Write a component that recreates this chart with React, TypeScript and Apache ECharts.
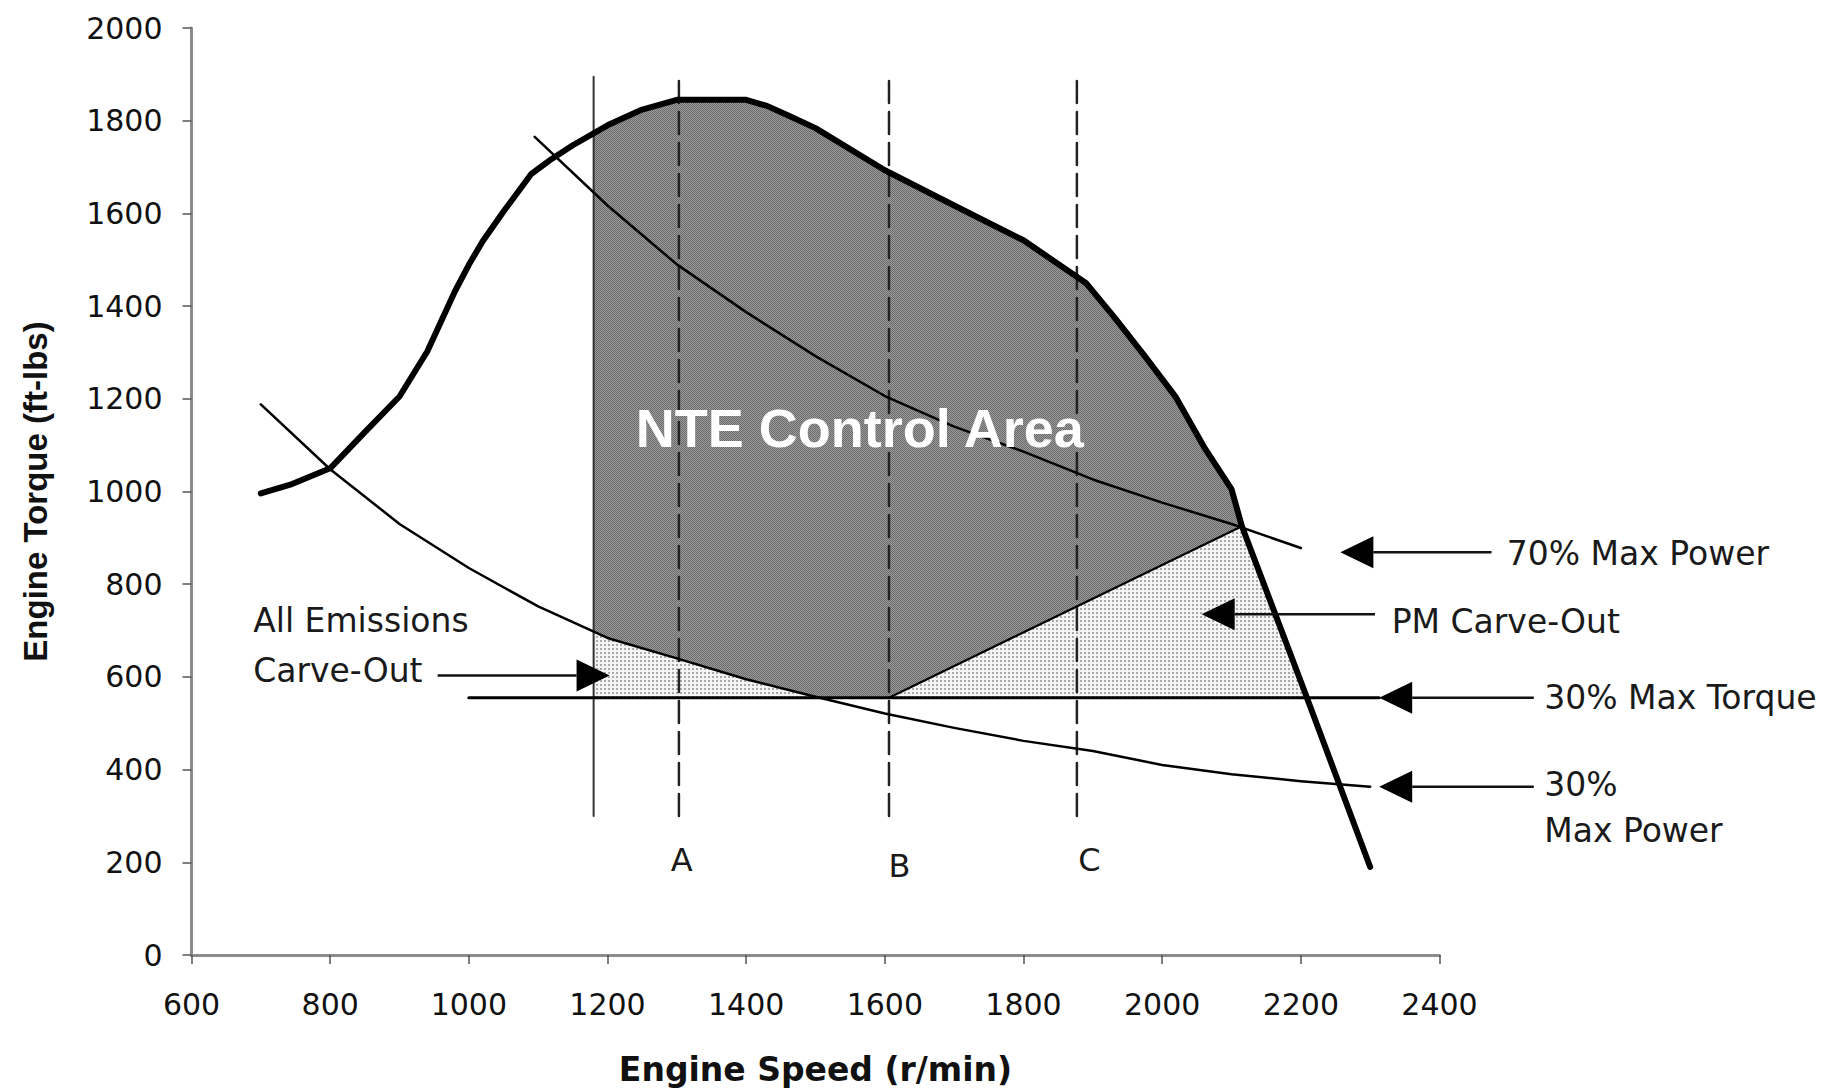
import React, { useEffect, useRef } from "react";
import * as echarts from "echarts";

type Pt = [number, number];

// Engine speed (r/min) vs torque (ft-lbs)
const maxTorqueCurve: Pt[] = [
  [700, 996], [745, 1016], [800, 1050], [850, 1128], [900, 1205], [940, 1302],
  [980, 1432], [1000, 1489], [1020, 1540], [1050, 1604], [1090, 1685], [1120, 1718],
  [1150, 1747], [1200, 1790], [1250, 1824], [1300, 1845], [1400, 1845], [1430, 1832],
  [1460, 1812], [1500, 1784], [1600, 1693], [1700, 1617], [1800, 1542], [1890, 1450],
  [1930, 1378], [1975, 1292], [2020, 1203], [2060, 1097], [2100, 1005], [2115, 925],
  [2200, 590], [2300, 190],
];
const power70Curve: Pt[] = [
  [1095, 1765], [1200, 1617], [1300, 1490], [1400, 1387], [1500, 1292], [1600, 1206],
  [1700, 1140], [1800, 1086], [1900, 1026], [2000, 976], [2100, 930], [2200, 878],
];
const power30Curve: Pt[] = [
  [700, 1188], [800, 1048], [900, 930], [1000, 835], [1100, 752], [1200, 684],
  [1300, 640], [1400, 595], [1500, 557], [1600, 521], [1700, 490], [1800, 462],
  [1900, 440], [2000, 410], [2100, 390], [2200, 375], [2300, 363],
];
const torque30Value = 555;
const torque30Span: Pt = [1000, 2313];

const nteLowSpeed = 1180; // lower speed bound of the NTE zone
const apexSpeed = 2115; // 70% power line meets the torque curve
const modeNames = ["A", "B", "C"];
const modeSpeeds = [1303, 1606, 1877];
const guideSpan: Pt = [300, 1895]; // torque extent of the vertical guides

const xTicks = { min: 600, max: 2400, step: 200 };
const yTicks = { min: 0, max: 2000, step: 200 };

const calloutTexts: string[][] = [
  ["70% Max Power"],
  ["PM Carve-Out"],
  ["30% Max Torque"],
  ["30%", "Max Power"],
  ["All Emissions", "Carve-Out"],
];
// [tail, tip] of each arrow and anchor of each text line, in axis units
const calloutArrows: [Pt, Pt][] = [
  [[2475, 869], [2257, 869]],
  [[2307, 735], [2057, 735]],
  [[2536, 555], [2313, 555]],
  [[2536, 363], [2313, 363]],
  [[955, 603], [1203, 603]],
];
const calloutAnchors: Pt[][] = [
  [[2497, 866]],
  [[2331, 720]],
  [[2551, 555]],
  [[2551, 367], [2551, 268]],
  [[689, 722], [689, 614]],
];
const modeLabelAt: Pt[] = [[1307, 205], [1621, 191], [1895, 205]];
const areaTitle = "NTE Control Area";
const areaTitleAt: Pt = [1564, 1137];

function torqueAt(curve: Pt[], s: number): number {
  for (let i = 0; i < curve.length - 1; i++) {
    const [x0, y0] = curve[i];
    const [x1, y1] = curve[i + 1];
    if (s >= x0 && s <= x1) return y0 + ((s - x0) / (x1 - x0)) * (y1 - y0);
  }
  return s < curve[0][0] ? curve[0][1] : curve[curve.length - 1][1];
}

function speedAtDescending(curve: Pt[], t: number): number {
  for (let i = 0; i < curve.length - 1; i++) {
    const [x0, y0] = curve[i];
    const [x1, y1] = curve[i + 1];
    if (y0 >= t && y1 <= t && y0 !== y1) return x0 + ((y0 - t) / (y0 - y1)) * (x1 - x0);
  }
  return curve[curve.length - 1][0];
}

function section(curve: Pt[], s0: number, s1: number): Pt[] {
  const pts: Pt[] = [[s0, torqueAt(curve, s0)]];
  curve.forEach((p) => {
    if (p[0] > s0 && p[0] < s1) pts.push(p);
  });
  pts.push([s1, torqueAt(curve, s1)]);
  return pts;
}

const power30Cross = speedAtDescending(power30Curve, torque30Value);
const maxTorqueCross = speedAtDescending(maxTorqueCurve, torque30Value);
const apex: Pt = [apexSpeed, torqueAt(maxTorqueCurve, apexSpeed)];
const speedB = modeSpeeds[1];

const nteRegion: Pt[] = [
  ...section(power30Curve, nteLowSpeed, power30Cross),
  [speedB, torque30Value],
  apex,
  ...section(maxTorqueCurve, nteLowSpeed, apexSpeed).reverse(),
];
const allEmissionsRegion: Pt[] = [
  [nteLowSpeed, torque30Value],
  ...section(power30Curve, nteLowSpeed, power30Cross),
];
const pmRegion: Pt[] = [
  [speedB, torque30Value],
  ...section(maxTorqueCurve, apexSpeed, maxTorqueCross),
];

const TEXT_FONT = "DejaVu Sans";
const INK = "#1a1a1a";

// Small repeating stipple tiles for the shaded zones
function stipple(size: number, bg: string, dot: string, cells: Pt[], fallback: string): any {
  try {
    const c = document.createElement("canvas");
    c.width = size;
    c.height = size;
    const ctx = c.getContext("2d");
    if (!ctx) return fallback;
    ctx.fillStyle = bg;
    ctx.fillRect(0, 0, size, size);
    ctx.fillStyle = dot;
    cells.forEach(([x, y]) => ctx.fillRect(x, y, 1, 1));
    return { type: "pattern", image: c.toDataURL(), repeat: "repeat", imageWidth: size, imageHeight: size };
  } catch (e) {
    return fallback;
  }
}

function textEl(text: string, x: number, y: number, size: number, extra: any = {}) {
  const align = extra.align || "left";
  return {
    type: "text",
    x,
    y,
    z2: 20,
    style: {
      text,
      fill: extra.fill || INK,
      fontSize: size,
      fontFamily: extra.fontFamily || TEXT_FONT,
      fontWeight: extra.fontWeight || "normal",
      align,
      textAlign: align,
      verticalAlign: "middle",
      textVerticalAlign: "middle",
    },
  };
}

function regionSeries(pts: Pt[], fill: any, z: number) {
  return {
    type: "custom",
    coordinateSystem: "cartesian2d",
    silent: true,
    z,
    data: [pts[0]],
    renderItem: (_p: any, api: any) => ({
      type: "polygon",
      shape: { points: pts.map((p) => api.coord(p)) },
      style: { fill, stroke: "none" },
    }),
  };
}

function lineSeries(data: Pt[], width: number, extra: any = {}) {
  return {
    type: "line",
    data,
    symbol: "none",
    showSymbol: false,
    silent: true,
    z: extra.z || 5,
    lineStyle: {
      color: extra.color || "#000",
      width,
      type: extra.type || "solid",
      cap: "round",
      join: "round",
    },
  };
}

const plainNumber = (v: number) => String(v);

export default function App() {
  const ref = useRef<HTMLDivElement>(null);

  useEffect(() => {
    if (!ref.current) return;
    const chart = echarts.init(ref.current, undefined, { renderer: "svg" });

    const darkFill = stipple(2, "#9c9c9c", "#6a6a6a", [[0, 0], [1, 1]], "#878787");
    const lightFill = stipple(4, "#f4f4f4", "#a8a8a8", [[0, 0], [1, 0], [0, 1], [1, 1]], "#e1e1e1");

    const guides: any[] = [
      lineSeries([[nteLowSpeed, guideSpan[0]], [nteLowSpeed, guideSpan[1]]], 2, { color: "#333", z: 4 }),
      ...modeSpeeds.map((s) =>
        lineSeries([[s, guideSpan[0]], [s, guideSpan[1]]], 2.5, { color: "#222", type: [22, 9], z: 4 })
      ),
    ];

    const annotations = {
      type: "custom",
      coordinateSystem: "cartesian2d",
      silent: true,
      clip: false,
      z: 10,
      data: [[xTicks.min, yTicks.min]],
      renderItem: (_p: any, api: any) => {
        const children: any[] = [];
        const headLen = 33;
        const headHalf = 16;
        calloutArrows.forEach(([tailV, tipV], i) => {
          const tail = api.coord(tailV);
          const tip = api.coord(tipV);
          const dx = tail[0] - tip[0];
          const dy = tail[1] - tip[1];
          const len = Math.hypot(dx, dy) || 1;
          const ux = dx / len;
          const uy = dy / len;
          const bx = tip[0] + ux * headLen;
          const by = tip[1] + uy * headLen;
          children.push({
            type: "line",
            shape: { x1: tail[0], y1: tail[1], x2: bx, y2: by },
            style: { stroke: "#111", lineWidth: 2.5 },
          });
          children.push({
            type: "polygon",
            shape: {
              points: [
                [tip[0], tip[1]],
                [bx - uy * headHalf, by + ux * headHalf],
                [bx + uy * headHalf, by - ux * headHalf],
              ],
            },
            style: { fill: "#000" },
          });
          calloutTexts[i].forEach((t, j) => {
            const at = api.coord(calloutAnchors[i][j]);
            children.push(textEl(t, at[0], at[1], 33));
          });
        });
        modeNames.forEach((n, i) => {
          const at = api.coord(modeLabelAt[i]);
          children.push(textEl(n, at[0], at[1], 32, { align: "center" }));
        });
        const tAt = api.coord(areaTitleAt);
        children.push(
          textEl(areaTitle, tAt[0], tAt[1], 54, {
            align: "center",
            fill: "#ffffff",
            fontWeight: "bold",
            fontFamily: "Liberation Sans",
          })
        );
        return { type: "group", children };
      },
    };

    const axisTick = { show: true, length: 9, lineStyle: { color: "#555", width: 1.5 } };
    const axisLine = { show: true, lineStyle: { color: "#8c8c8c", width: 3 } };

    chart.setOption({
      animation: false,
      backgroundColor: "#ffffff",
      grid: { left: 191.5, right: 403.5, top: 28, bottom: 133, containLabel: false },
      xAxis: {
        type: "value",
        min: xTicks.min,
        max: xTicks.max,
        interval: xTicks.step,
        splitLine: { show: false },
        axisLine,
        axisTick,
        axisLabel: { margin: 34, fontFamily: TEXT_FONT, fontSize: 30, color: "#111", formatter: plainNumber },
        name: "Engine Speed (r/min)",
        nameLocation: "middle",
        nameGap: 98,
        nameTextStyle: { fontFamily: TEXT_FONT, fontWeight: "bold", fontSize: 33, color: "#111" },
      },
      yAxis: {
        type: "value",
        min: yTicks.min,
        max: yTicks.max,
        interval: yTicks.step,
        splitLine: { show: false },
        axisLine,
        axisTick,
        axisLabel: { margin: 29, fontFamily: TEXT_FONT, fontSize: 30, color: "#111", formatter: plainNumber },
        name: "Engine Torque (ft-lbs)",
        nameLocation: "middle",
        nameGap: 140,
        nameTextStyle: { fontFamily: "Liberation Sans", fontWeight: "bold", fontSize: 33, color: "#111" },
      },
      series: [
        regionSeries(allEmissionsRegion, lightFill, 1),
        regionSeries(pmRegion, lightFill, 1),
        regionSeries(nteRegion, darkFill, 1),
        ...guides,
        lineSeries([[speedB, torque30Value], apex], 2.2, { z: 5 }),
        lineSeries([[torque30Span[0], torque30Value], [torque30Span[1], torque30Value]], 3, { z: 5 }),
        lineSeries(power30Curve, 2.5, { z: 6 }),
        lineSeries(power70Curve, 2.5, { z: 6 }),
        lineSeries(maxTorqueCurve, 6, { z: 7 }),
        annotations,
      ],
    });

    return () => chart.dispose();
  }, []);

  return (
    <div
      ref={ref}
      style={{ position: "absolute", left: 0, top: 0, width: 1843, height: 1091 }}
    />
  );
}
